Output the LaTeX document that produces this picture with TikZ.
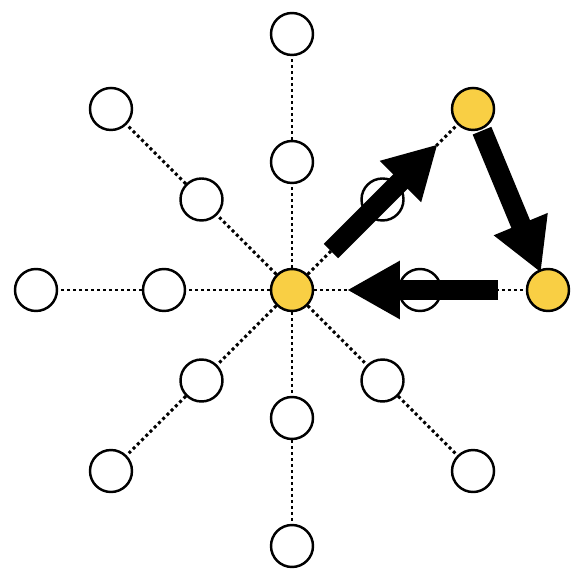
\documentclass[tikz,border=0pt]{standalone}
\usepackage{xcolor}
\usepackage{tikz}
\usetikzlibrary{arrows.meta,calc}
\definecolor{sunyellow}{RGB}{249,207,68}

\begin{document}
\begin{tikzpicture}[
    x=0.02cm,
    y=0.02cm,
    site/.style={
        circle,
        draw,
        line width=1.4pt,
        fill=white,
        inner sep=0pt,
        minimum size=0.84cm
    },
    active/.style={
        site,
        fill=sunyellow
    },
    link/.style={
        line width=1.7pt,
        dash pattern=on 1.7pt off 1.7pt
    },
    hop/.style={
        line width=11.5pt,
        -{Triangle[length=30pt, width=31pt]}
    }
]

\useasboundingbox (0,0) rectangle (584,584);


\node[active] (c) at (292,294) {};


\foreach \a/\n/\s in {0/e/active, 45/ne/active, 90/n/site, 135/nw/site,
                      180/w/site, 225/sw/site, 270/s/site, 315/se/site} {
    \path (c) ++(\a:128) node[site] (i\n) {};
    \path (c) ++(\a:256) node[\s] (o\n) {};
}


\foreach \n in {e,ne,n,nw,w,sw,s,se} {
    \draw[link] (c) -- (i\n);
    \draw[link] (i\n) -- (o\n);
}



\draw[hop] ($(c)!0.215!(one)$) -- ($(c)!0.805!(one)$);
\draw[hop] ($(one)!0.12!(oe)$) -- ($(one)!0.905!(oe)$);
\draw[hop] ($(oe)!0.195!(c)$) -- ($(oe)!0.785!(c)$);

\end{tikzpicture}
\end{document}
